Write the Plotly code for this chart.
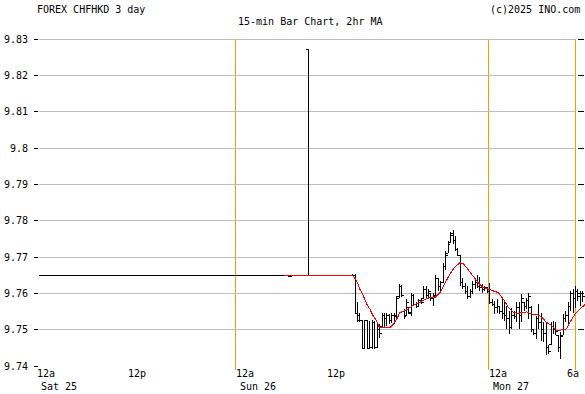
import plotly.graph_objects as go

# ---------------- data ----------------
# x positions are 15-minute bar slots (chart index)
bar_slot = [102, 103, 110] + list(range(128, 223))
bar_open = [9.7649, 9.7648, 9.8270,
            9.7650, 9.7650, 9.7545, 9.7540, 9.7525, 9.7447, 9.7524, 9.7447, 9.7450, 9.7520,
            9.7450, 9.7500, 9.7510, 9.7540, 9.7530, 9.7540, 9.7525, 9.7540, 9.7535, 9.7590,
            9.7618, 9.7550, 9.7540, 9.7560, 9.7545, 9.7595, 9.7570, 9.7565, 9.7580, 9.7585,
            9.7610, 9.7595, 9.7600, 9.7585, 9.7595, 9.7640, 9.7620, 9.7630, 9.7675, 9.7710,
            9.7740, 9.7765, 9.7745, 9.7720, 9.7705, 9.7630, 9.7620, 9.7605, 9.7590, 9.7605,
            9.7625, 9.7630, 9.7620, 9.7615, 9.7610, 9.7615, 9.7605, 9.7575, 9.7570, 9.7560,
            9.7565, 9.7550, 9.7545, 9.7540, 9.7530, 9.7505, 9.7540, 9.7535, 9.7560, 9.7540,
            9.7575, 9.7565, 9.7580, 9.7560, 9.7500, 9.7490, 9.7530, 9.7520, 9.7500, 9.7490,
            9.7450, 9.7460, 9.7510, 9.7500, 9.7484, 9.7450, 9.7485, 9.7530, 9.7540, 9.7565,
            9.7600, 9.7585, 9.7605, 9.7590, 9.7600]
bar_high = [9.7650, 9.7650, 9.8270,
            9.7652, 9.7652, 9.7575, 9.7545, 9.7526, 9.7526, 9.7526, 9.7525, 9.7526, 9.7525,
            9.7520, 9.7515, 9.7545, 9.7545, 9.7545, 9.7543, 9.7545, 9.7545, 9.7593, 9.7625,
            9.7622, 9.7556, 9.7584, 9.7562, 9.7600, 9.7598, 9.7576, 9.7585, 9.7588, 9.7620,
            9.7621, 9.7611, 9.7602, 9.7600, 9.7651, 9.7642, 9.7635, 9.7684, 9.7716, 9.7743,
            9.7770, 9.7775, 9.7757, 9.7725, 9.7705, 9.7643, 9.7629, 9.7620, 9.7611, 9.7634,
            9.7638, 9.7651, 9.7645, 9.7625, 9.7620, 9.7618, 9.7629, 9.7584, 9.7579, 9.7584,
            9.7566, 9.7584, 9.7575, 9.7566, 9.7552, 9.7561, 9.7552, 9.7575, 9.7575, 9.7597,
            9.7575, 9.7588, 9.7602, 9.7566, 9.7502, 9.7538, 9.7570, 9.7547, 9.7520, 9.7520,
            9.7457, 9.7520, 9.7525, 9.7520, 9.7484, 9.7493, 9.7543, 9.7552, 9.7575, 9.7607,
            9.7611, 9.7620, 9.7611, 9.7607, 9.7607]
bar_low = [9.7646, 9.7646, 9.7650,
           9.7648, 9.7543, 9.7522, 9.7520, 9.7446, 9.7446, 9.7446, 9.7446, 9.7446, 9.7446,
           9.7450, 9.7478, 9.7506, 9.7506, 9.7510, 9.7515, 9.7518, 9.7515, 9.7528, 9.7588,
           9.7590, 9.7529, 9.7540, 9.7542, 9.7538, 9.7566, 9.7560, 9.7565, 9.7570, 9.7584,
           9.7588, 9.7584, 9.7579, 9.7566, 9.7595, 9.7607, 9.7605, 9.7629, 9.7665, 9.7710,
           9.7738, 9.7735, 9.7716, 9.7702, 9.7620, 9.7611, 9.7597, 9.7584, 9.7588, 9.7597,
           9.7611, 9.7616, 9.7606, 9.7602, 9.7607, 9.7600, 9.7570, 9.7566, 9.7543, 9.7547,
           9.7543, 9.7529, 9.7525, 9.7502, 9.7488, 9.7502, 9.7529, 9.7520, 9.7502, 9.7520,
           9.7552, 9.7556, 9.7529, 9.7493, 9.7484, 9.7475, 9.7502, 9.7470, 9.7466, 9.7429,
           9.7434, 9.7457, 9.7488, 9.7484, 9.7438, 9.7420, 9.7484, 9.7520, 9.7511, 9.7552,
           9.7547, 9.7561, 9.7579, 9.7566, 9.7575]
bar_close = [9.7647, 9.7649, 9.7650,
             9.7650, 9.7545, 9.7525, 9.7525, 9.7447, 9.7524, 9.7447, 9.7450, 9.7520, 9.7450,
             9.7500, 9.7490, 9.7540, 9.7530, 9.7540, 9.7525, 9.7540, 9.7540, 9.7585, 9.7618,
             9.7595, 9.7535, 9.7575, 9.7548, 9.7595, 9.7570, 9.7565, 9.7580, 9.7575, 9.7610,
             9.7595, 9.7605, 9.7585, 9.7590, 9.7640, 9.7620, 9.7630, 9.7675, 9.7705, 9.7735,
             9.7760, 9.7745, 9.7720, 9.7705, 9.7630, 9.7620, 9.7605, 9.7590, 9.7605, 9.7625,
             9.7630, 9.7620, 9.7615, 9.7610, 9.7615, 9.7605, 9.7575, 9.7570, 9.7560, 9.7565,
             9.7550, 9.7545, 9.7540, 9.7530, 9.7505, 9.7540, 9.7535, 9.7560, 9.7540, 9.7585,
             9.7565, 9.7580, 9.7590, 9.7500, 9.7490, 9.7530, 9.7520, 9.7500, 9.7490, 9.7450,
             9.7440, 9.7510, 9.7500, 9.7495, 9.7450, 9.7480, 9.7530, 9.7540, 9.7565, 9.7600,
             9.7585, 9.7605, 9.7590, 9.7600, 9.7590]

# flat (no trading) stretch before the first moves
flat_slot = [0, 101]
flat_price = [9.765, 9.765]

# 2-hour moving average (red)
ma_slot = [100, 128, 129.7, 131.0, 132.4, 133.8, 135.1, 136.4, 137.8, 138.9,
           143.3, 144.6, 146.0, 147.3, 149.4, 151.4, 153.5, 155.5, 157.6, 159.6,
           161.6, 163.7, 165.7, 167.8, 169.8, 171.8, 173.2, 175.2, 177.3, 179.3,
           181.3, 183.4, 185.4, 187.5, 189.5, 191.6, 193.6, 195.6, 199.1, 201.1,
           203.1, 205.2, 207.2, 209.3, 211.3, 213.3, 215.4, 216.7, 218.8, 220.8,
           222.9]
ma_val = [9.7650, 9.7650, 9.7634, 9.7611, 9.7593, 9.7570, 9.7556, 9.7538, 9.7525, 9.7506,
          9.7506, 9.7515, 9.7529, 9.7547, 9.7552, 9.7561, 9.7570, 9.7575, 9.7584, 9.7588,
          9.7588, 9.7602, 9.7629, 9.7654, 9.7673, 9.7684, 9.7682, 9.7665, 9.7647, 9.7629,
          9.7616, 9.7611, 9.7607, 9.7602, 9.7584, 9.7561, 9.7547, 9.7545, 9.7549, 9.7543,
          9.7543, 9.7534, 9.7520, 9.7511, 9.7497, 9.7500, 9.7502, 9.7520, 9.7543, 9.7556,
          9.7570]

# axes
y_ticks = [9.74, 9.75, 9.76, 9.77, 9.78, 9.79, 9.80, 9.81, 9.82, 9.83]
y_ticktext = ["9.74", "9.75", "9.76", "9.77", "9.78", "9.79", "9.8", "9.81", "9.82", "9.83"]
x_tick_slot = [0, 36, 80, 117, 183.3, 218.8]
x_tick_text = ["12a", "12p", "12a", "12p", "12a", "6a"]
x_day_text = ["Sat 25", "", "Sun 26", "", "Mon 27", ""]
day_start_slot = [80, 183.3, 218.8]   # orange separators

title_left = "FOREX CHFHKD 3 day"
title_mid = "15-min Bar Chart, 2hr MA"
title_right = "(c)2025 INO.com"

assert len(bar_slot) == len(bar_open) == len(bar_high) == len(bar_low) == len(bar_close)
assert len(ma_slot) == len(ma_val)

# ---------------- figure ----------------
W, H = 585, 394
L, R, T, B = 39, 0, 39, 28
PW, PH = W - L - R, H - T - B
X_MAX = 222.86
GRID_END = 218.8
FONT = "DejaVu Sans Mono"
TICK = 0.95          # open/close tick length, in slots
HALF_PX = 0.5 * X_MAX / PW   # half a pixel in slot units (for crisp 1px lines)


def px_x(px):
    return (px - L) / PW


def px_y(py):
    return (H - B - py) / PH


# OHLC bars as one line trace: high-low stem, open tick left, close tick right
ohlc_x, ohlc_y = [], []
for s, o, h, l, c in zip(bar_slot, bar_open, bar_high, bar_low, bar_close):
    ohlc_x += [s, s, None, s - TICK, s, None, s, s + TICK, None]
    ohlc_y += [l, h, None, o, o, None, c, c, None]

fig = go.Figure()
fig.add_trace(go.Scatter(x=flat_slot, y=flat_price, mode="lines",
                         line=dict(color="black", width=1), hoverinfo="skip"))
fig.add_trace(go.Scatter(x=ohlc_x, y=ohlc_y, mode="lines", connectgaps=False,
                         line=dict(color="black", width=1), hoverinfo="skip"))
fig.add_trace(go.Scatter(x=ma_slot, y=ma_val, mode="lines",
                         line=dict(color="#ff0000", width=1), hoverinfo="skip"))

shapes = []
for v in y_ticks:
    shapes.append(dict(type="line", xref="x", yref="y", x0=0, x1=GRID_END, y0=v, y1=v,
                       line=dict(color="#bdbdbd", width=1), layer="below"))
    shapes.append(dict(type="line", xref="x", yref="y", x0=220.2, x1=222.3, y0=v, y1=v,
                       line=dict(color="black", width=1)))
for s in day_start_slot:
    shapes.append(dict(type="line", xref="x", yref="paper", x0=s + HALF_PX, x1=s + HALF_PX,
                       y0=-0.012, y1=1.0,
                       line=dict(color="#f0a000", width=1), layer="below"))

annotations = []
shift = [-3, 0, 0, 0, 0, 0]
for i, (s, t, d) in enumerate(zip(x_tick_slot, x_tick_text, x_day_text)):
    if t == "6a":
        annotations.append(dict(x=s, y=px_y(373.5), xref="x", yref="paper", text=t,
                                xanchor="right", yanchor="middle", showarrow=False,
                                xshift=5, borderpad=0,
                                font=dict(family=FONT, size=10, color="black")))
    else:
        annotations.append(dict(x=s, y=px_y(373.5), xref="x", yref="paper", text=t,
                                xanchor="left", yanchor="middle", showarrow=False,
                                xshift=shift[i], borderpad=0,
                                font=dict(family=FONT, size=10, color="black")))
    if d:
        annotations.append(dict(x=s, y=px_y(386), xref="x", yref="paper", text=d,
                                xanchor="left", yanchor="middle", showarrow=False,
                                xshift=shift[i] + 4, borderpad=0,
                                font=dict(family=FONT, size=10, color="black")))

annotations.append(dict(x=px_x(36), y=px_y(9.5), xref="paper", yref="paper", text=title_left,
                        xanchor="left", yanchor="middle", showarrow=False, borderpad=0,
                        font=dict(family=FONT, size=10, color="black")))
annotations.append(dict(x=px_x(237), y=px_y(21.5), xref="paper", yref="paper", text=title_mid,
                        xanchor="left", yanchor="middle", showarrow=False, borderpad=0,
                        font=dict(family=FONT, size=10, color="black")))
annotations.append(dict(x=px_x(489), y=px_y(9), xref="paper", yref="paper", text=title_right,
                        xanchor="left", yanchor="middle", showarrow=False, borderpad=0,
                        font=dict(family=FONT, size=10, color="black")))

fig.update_layout(
    width=W, height=H,
    margin=dict(l=L, r=R, t=T, b=B, pad=0),
    paper_bgcolor="white", plot_bgcolor="white",
    showlegend=False,
    shapes=shapes,
    annotations=annotations,
    xaxis=dict(range=[0, X_MAX], showgrid=False, zeroline=False, showticklabels=False,
               ticks="", showline=False, fixedrange=True),
    yaxis=dict(range=[9.74, 9.83], showgrid=False, zeroline=False, showline=False,
               tickvals=y_ticks, ticktext=y_ticktext, ticks="outside", ticklen=4,
               tickwidth=1, tickcolor="black", ticklabelstandoff=4,
               tickfont=dict(family=FONT, size=10, color="black"), fixedrange=True),
)

crisp = ("var s=document.createElement('style');"
         "s.textContent='.main-svg path{shape-rendering:crispEdges}';"
         "document.head.appendChild(s);")
fig.write_html("out.html", config={"displayModeBar": False}, post_script=crisp)
